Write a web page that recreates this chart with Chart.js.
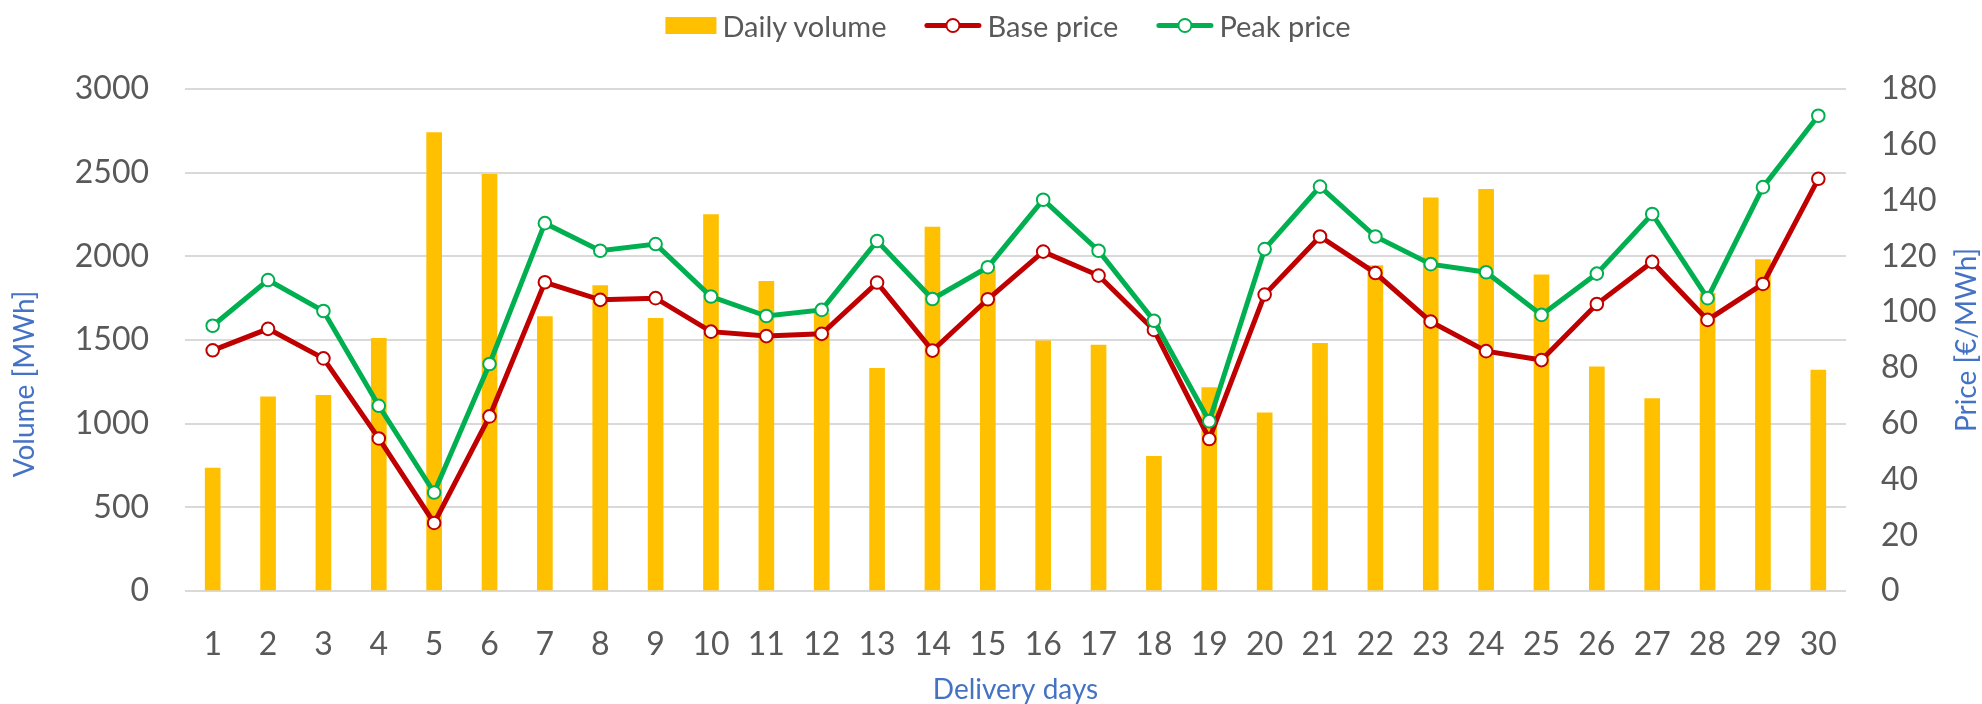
<!DOCTYPE html>
<html>
<head>
<meta charset="utf-8">
<script src="https://cdn.jsdelivr.net/npm/chart.js@4.4.1/dist/chart.umd.min.js"></script>
<style>
    body { margin: 0; background: #fff; }
    #wrap { position: relative; width: 1982px; height: 704px; }
    #legend {
        position: absolute; top: 0; left: 1008px; height: 51px;
        transform: translateX(-50%);
        display: flex; align-items: center; gap: 38px;
        font-family: Lato, sans-serif; font-size: 29px; color: #595959;
        white-space: nowrap;
    }
    .item { display: flex; align-items: center; gap: 6px; }
    .box { width: 51px; height: 17px; }
    .lineSwatch { position: relative; width: 57px; height: 15px; }
    .lineSwatch .bar { position: absolute; left: 0; right: 0; top: 5px; height: 5px; border-radius: 3px; }
    .lineSwatch .dot { position: absolute; left: 21px; top: 0; width: 11px; height: 11px; border-radius: 50%; background: #fff; border: 2px solid; }
</style>
</head>
<body>
<div id="wrap">
    <canvas id="myChart" width="1982" height="704"></canvas>
    <div id="legend"></div>
</div>
<script>
const days = ['1','2','3','4','5','6','7','8','9','10','11','12','13','14','15',
    '16','17','18','19','20','21','22','23','24','25','26','27','28','29','30'];

// MWh
const dailyVolume = [735, 1160, 1170, 1510, 2740, 2490, 1640, 1825, 1630, 2250,
    1850, 1660, 1330, 2175, 1920, 1495, 1470, 805, 1215, 1065,
    1480, 1945, 2350, 2400, 1890, 1340, 1150, 1780, 1980, 1320];

// €/MWh
const basePrice = [86.3, 94.0, 83.4, 54.7, 24.4, 62.6, 110.7, 104.4, 105.0, 93.0,
    91.4, 92.2, 110.6, 86.2, 104.6, 121.7, 113.1, 93.6, 54.5, 106.3,
    127.1, 114.0, 96.6, 86.0, 82.8, 102.9, 118.0, 97.2, 110.1, 147.8];
const peakPrice = [95.1, 111.5, 100.4, 66.4, 35.3, 81.4, 131.9, 122.0, 124.4, 105.6,
    98.6, 100.8, 125.5, 104.7, 116.1, 140.3, 122.0, 96.9, 60.9, 122.6,
    145.0, 127.1, 117.2, 114.3, 99.0, 113.8, 135.2, 105.0, 144.8, 170.4];

const volumeTicks = [0, 500, 1000, 1500, 2000, 2500, 3000];
const priceTicks = [0, 20, 40, 60, 80, 100, 120, 140, 160, 180];

const tickFont = { family: 'Lato', size: 32 };
const titleColor = '#4472C4';
const textColor = '#595959';

// rotated axis titles, both read bottom to top like in Excel
const axisTitles = {
    id: 'axisTitles',
    afterDraw(chart) {
        const ctx = chart.ctx;
        const area = chart.chartArea;
        const mid = (area.top + area.bottom) / 2;
        ctx.save();
        ctx.fillStyle = titleColor;
        ctx.font = '28px Lato';
        ctx.textAlign = 'center';
        ctx.textBaseline = 'middle';
        [['Volume [MWh]', 25, mid + 44], ['Price [€/MWh]', 1967, mid]].forEach(t => {
            ctx.save();
            ctx.translate(t[1], t[2]);
            ctx.rotate(-Math.PI / 2);
            ctx.fillText(t[0], 0, 0);
            ctx.restore();
        });
        ctx.restore();
    }
};

function lineSet(label, data, color, order) {
    return {
        type: 'line',
        label: label,
        data: data,
        yAxisID: 'price',
        borderColor: color,
        borderWidth: 5,
        pointRadius: 6.3,
        pointBorderWidth: 2,
        pointBackgroundColor: '#fff',
        pointBorderColor: color,
        tension: 0,
        order: order
    };
}

function buildLegend(chart) {
    const legend = document.getElementById('legend');
    chart.data.datasets.forEach(ds => {
        const item = document.createElement('div');
        item.className = 'item';
        const swatch = document.createElement('div');
        if (ds.type === 'line') {
            swatch.className = 'lineSwatch';
            const bar = document.createElement('div');
            bar.className = 'bar';
            bar.style.background = ds.borderColor;
            const dot = document.createElement('div');
            dot.className = 'dot';
            dot.style.borderColor = ds.borderColor;
            swatch.appendChild(bar);
            swatch.appendChild(dot);
        } else {
            swatch.className = 'box';
            swatch.style.background = ds.backgroundColor;
        }
        const text = document.createElement('span');
        text.appendChild(document.createTextNode(ds.label));
        item.appendChild(swatch);
        item.appendChild(text);
        legend.appendChild(item);
    });
}

const ctx = document.getElementById('myChart').getContext('2d');
const chart = new Chart(ctx, {
    type: 'bar',
    data: {
        labels: days,
        datasets: [
            {
                type: 'bar',
                label: 'Daily volume',
                data: dailyVolume,
                yAxisID: 'volume',
                backgroundColor: '#FFC000',
                barThickness: 15,
                order: 3
            },
            lineSet('Base price', basePrice, '#C00000', 2),
            lineSet('Peak price', peakPrice, '#00B050', 1)
        ]
    },
    options: {
        responsive: false,
        animation: false,
        layout: { padding: { top: 89, left: 0, right: 0, bottom: 0 } },
        plugins: {
            legend: { display: false },
            tooltip: { enabled: false }
        },
        scales: {
            x: {
                grid: { display: false },
                border: { display: false },
                ticks: { color: textColor, font: tickFont, padding: 26, maxRotation: 0 },
                title: {
                    display: true,
                    text: 'Delivery days',
                    color: titleColor,
                    font: { family: 'Lato', size: 28 },
                    padding: { top: 0, bottom: -3 }
                },
                afterFit(scale) { scale.height = 113; }
            },
            volume: {
                position: 'left',
                min: 0,
                max: 3000,
                afterBuildTicks(scale) { scale.ticks = volumeTicks.map(v => ({ value: v })); },
                grid: { color: '#D9D9D9', lineWidth: 2, drawTicks: false },
                border: { display: false },
                ticks: { color: textColor, font: tickFont, padding: 36, callback: v => String(v) },
                afterFit(scale) { scale.width = 185; }
            },
            price: {
                position: 'right',
                min: 0,
                max: 180,
                afterBuildTicks(scale) { scale.ticks = priceTicks.map(v => ({ value: v })); },
                grid: { display: false, drawTicks: false },
                border: { display: false },
                ticks: { color: textColor, font: tickFont, padding: 35, callback: v => String(v) },
                afterFit(scale) { scale.width = 136; }
            }
        }
    },
    plugins: [axisTitles]
});

buildLegend(chart);
</script>
</body>
</html>
